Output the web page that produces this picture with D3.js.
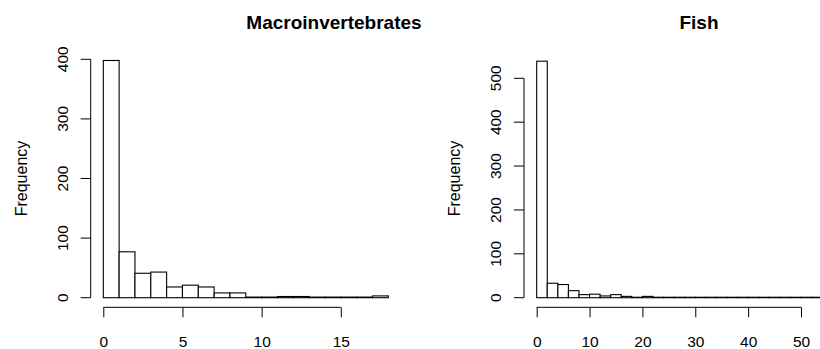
<!DOCTYPE html>
<html><head><meta charset="utf-8">
<script src="https://cdn.jsdelivr.net/npm/d3@7/dist/d3.min.js"></script>
<style>body{margin:0;background:#fff}svg{display:block}text{font-family:"Liberation Sans",Arial,sans-serif;fill:#000}</style>
</head><body><svg id="c" width="820" height="349"></svg>
<script>
// Macroinvertebrates histogram: bin width 1, from 0 to 18
const macroBreaks = [0,1,2,3,4,5,6,7,8,9,10,11,12,13,14,15,16,17,18];
const macroCounts = [398,77,41,43,18,21,18,8,8,1,1,2,2,1,1,1,1,3];
const macroXTicks = [0,5,10,15];
const macroYTicks = [0,100,200,300,400];
// Fish histogram: bin width 2
const fishBreaks = [0,2,4,6,8,10,12,14,16,18,20,22,24,26,28,30,32,34,36,38,40,42,44,46,48,50,52,54,56];
const fishCounts = [539,33,30,16,7,8,4,7,3,1,3,1,1,1,1,1,1,1,1,1,1,1,1,1,1,1,1,1];
const fishXTicks = [0,10,20,30,40,50];
const fishYTicks = [0,100,200,300,400,500];

const svg = d3.select("#c");

function panel(o){
  const g = svg.append("g");
  const x = d3.scaleLinear().domain(o.xd).range(o.xr);
  const y = d3.scaleLinear().domain([0, o.yTicks[o.yTicks.length-1]]).range(o.yr);
  const bins = o.counts.map((c,i)=>({x0:o.breaks[i], x1:o.breaks[i+1], c}));
  g.selectAll("rect").data(bins).join("rect")
    .attr("x", d=>x(d.x0)).attr("width", d=>x(d.x1)-x(d.x0))
    .attr("y", d=>y(d.c)).attr("height", d=>y(0)-y(d.c))
    .attr("fill","#fff").attr("stroke","#000").attr("stroke-width",1.1);
  // x axis
  const xa = g.append("g").attr("transform",`translate(0,${o.xAxisY})`)
    .call(d3.axisBottom(x).tickValues(o.xTicks).tickSize(10).tickSizeOuter(0).tickPadding(0));
  xa.select(".domain").attr("d", `M${x(o.xTicks[0])},0H${x(o.xTicks[o.xTicks.length-1])}`).attr("stroke","#000");
  xa.selectAll("line").attr("stroke","#000");
  xa.selectAll("text").attr("y", 39.5).attr("dy", null)
    .style("font-size","15.5px").attr("font-family",null);
  // y axis
  const ya = g.append("g").attr("transform",`translate(${o.yAxisX},0)`)
    .call(d3.axisLeft(y).tickValues(o.yTicks).tickSize(10).tickSizeOuter(0));
  ya.select(".domain").attr("d", `M0,${y(0)}V${y(o.yTicks[o.yTicks.length-1])}`).attr("stroke","#000");
  ya.selectAll(".tick").attr("transform",null);
  ya.selectAll(".tick line").attr("y1",d=>y(d)).attr("y2",d=>y(d)).attr("stroke","#000");
  ya.selectAll(".tick text").attr("x",null).attr("y",null).attr("dy",null)
    .attr("text-anchor","middle")
    .attr("transform", d=>`translate(${-o.tickLab},${y(d)}) rotate(-90)`)
    .style("font-size","15.5px").attr("font-family",null);
  // labels
  g.append("text").attr("transform",`translate(${o.ylabX},${(o.yr[0]+59.3)/2}) rotate(-90)`)
    .attr("text-anchor","middle").style("font-size","16px").text("Frequency");
  g.append("text").attr("x",o.titleX).attr("y",29).attr("text-anchor","middle")
    .style("font-size","19px").style("font-weight","bold").text(o.title);
}

panel({breaks:macroBreaks, counts:macroCounts, xTicks:macroXTicks, yTicks:macroYTicks,
  xd:[0,18], xr:[103.3,388.3], yr:[297.7,59.3], xAxisY:307.3, yAxisX:90.7, tickLab:22.7, ylabX:26.5,
  titleX:334, title:"Macroinvertebrates"});
panel({breaks:fishBreaks, counts:fishCounts, xTicks:fishXTicks, yTicks:fishYTicks,
  xd:[0,50], xr:[536.7,801], yr:[297.7,78.3], xAxisY:307.3, yAxisX:524, tickLab:22.7, ylabX:460,
  titleX:699, title:"Fish"});
</script></body></html>
